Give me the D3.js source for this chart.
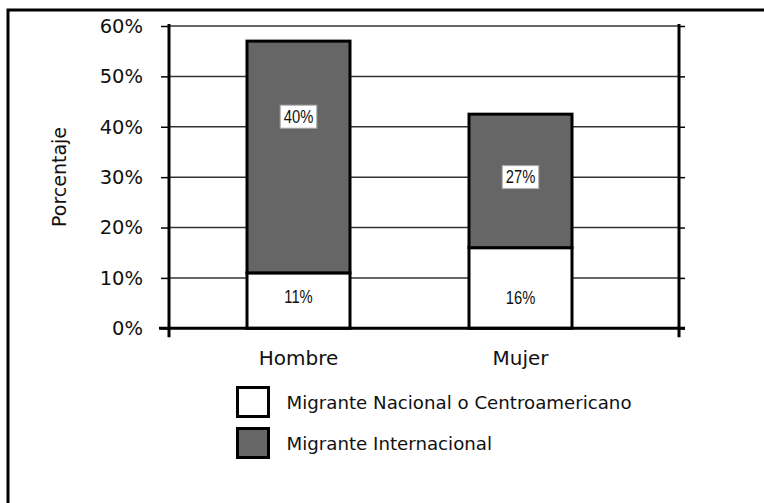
<!DOCTYPE html>
<html>
<head>
<meta charset="utf-8">
<script src="https://cdn.jsdelivr.net/npm/d3@7/dist/d3.min.js"></script>
<style>
  html, body { margin: 0; padding: 0; background: #fff; }
  svg { display: block; }
</style>
</head>
<body>
<script>
// ---- data ----
const categories = ["Hombre", "Mujer"];
const nacional = [11, 16];
const internacional = [46, 26.5];
const nacionalLabels = ["11%", "16%"];
const internacionalLabels = ["40%", "27%"];
const nacionalLabelAt = [6.2, 6.1];
const internacionalLabelAt = [42, 30];
const yTicks = [0, 10, 20, 30, 40, 50, 60];
const yTickLabels = ["0%", "10%", "20%", "30%", "40%", "50%", "60%"];
const yTitle = "Porcentaje";
const seriesNames = ["Migrante Nacional o Centroamericano", "Migrante Internacional"];
const seriesColors = ["#ffffff", "#666666"];

// ---- layout ----
const W = 764, H = 503;
const plot = { left: 169, right: 679, top: 26, bottom: 328.3 };
const mainFont = "'DejaVu Sans', sans-serif";
const narrowFont = "'Liberation Sans Narrow', 'Arial Narrow', 'Liberation Sans', sans-serif";
const narrowFactor = 0.82;

const svg = d3.select("body").append("svg").attr("width", W).attr("height", H);

// outer frame (only top/left visible)
svg.append("rect").attr("x", 8).attr("y", 10).attr("width", 900).attr("height", 700)
  .attr("fill", "none").attr("stroke", "#000").attr("stroke-width", 3);

const y = d3.scaleLinear().domain([0, 60]).range([plot.bottom, plot.top]);
const x = d3.scalePoint().domain(categories).range([298.5, 520.5]);
const barW = 103;

// gridlines
svg.append("g").selectAll("line").data(yTicks.filter(d => d > 0)).join("line")
  .attr("x1", plot.left).attr("x2", plot.right)
  .attr("y1", d => y(d)).attr("y2", d => y(d))
  .attr("stroke", "#333").attr("stroke-width", 1.5);

// stacked data
const rows = categories.map((c, i) => ({ cat: c, nacional: nacional[i], internacional: internacional[i] }));
const stack = d3.stack().keys(["nacional", "internacional"])(rows);

svg.append("g").selectAll("g").data(stack).join("g")
  .attr("fill", (d, i) => seriesColors[i])
  .selectAll("rect").data(d => d).join("rect")
  .attr("x", d => x(d.data.cat) - barW / 2)
  .attr("width", barW)
  .attr("y", d => y(d[1]))
  .attr("height", d => y(d[0]) - y(d[1]))
  .attr("stroke", "#000").attr("stroke-width", 3);

// left axis
const axL = svg.append("g").attr("transform", `translate(${plot.left},0)`)
  .call(d3.axisLeft(y).tickValues(yTicks).tickFormat((d, i) => yTickLabels[i]).tickSize(8).tickPadding(18));
axL.select(".domain").remove();
axL.selectAll(".tick line").attr("stroke", "#000").attr("stroke-width", 1.5);
axL.selectAll(".tick text").attr("font-family", mainFont).attr("font-size", 19.5).attr("fill", "#111");

// right axis ticks
const axR = svg.append("g").attr("transform", `translate(${plot.right},0)`)
  .call(d3.axisRight(y).tickValues(yTicks).tickFormat("").tickSize(6));
axR.select(".domain").remove();
axR.selectAll(".tick line").attr("stroke", "#000").attr("stroke-width", 1.5);

// vertical axis lines
[plot.left, plot.right].forEach(px => {
  svg.append("line").attr("x1", px).attr("x2", px).attr("y1", plot.top - 2).attr("y2", plot.bottom + 9)
    .attr("stroke", "#000").attr("stroke-width", 3);
});
// baseline
svg.append("line").attr("x1", plot.left - 10).attr("x2", plot.right + 6)
  .attr("y1", y(0)).attr("y2", y(0)).attr("stroke", "#000").attr("stroke-width", 3);

// category labels
svg.append("g").selectAll("text").data(categories).join("text")
  .attr("x", d => x(d)).attr("y", 365)
  .attr("text-anchor", "middle").attr("font-family", mainFont).attr("font-size", 20)
  .attr("fill", "#111").text(d => d);

// y title
svg.append("text").attr("transform", `translate(66,177) rotate(-90)`)
  .attr("text-anchor", "middle").attr("font-family", mainFont).attr("font-size", 19)
  .attr("fill", "#111").text(yTitle);

// value labels (narrow)
function narrowText(sel) {
  const w = sel.node().getComputedTextLength();
  sel.attr("textLength", w * narrowFactor).attr("lengthAdjust", "spacingAndGlyphs");
  return w * narrowFactor;
}
const lblG = svg.append("g");
categories.forEach((c, i) => {
  const t1 = lblG.append("text").attr("x", x(c)).attr("y", y(nacionalLabelAt[i]))
    .attr("dy", "0.35em").attr("text-anchor", "middle")
    .attr("font-family", narrowFont).attr("font-size", 18).attr("fill", "#111")
    .text(nacionalLabels[i]);
  narrowText(t1);
  const g = lblG.append("g");
  const t = g.append("text").attr("x", x(c)).attr("y", y(internacionalLabelAt[i]))
    .attr("dy", "0.35em").attr("text-anchor", "middle")
    .attr("font-family", narrowFont).attr("font-size", 18).attr("fill", "#111")
    .text(internacionalLabels[i]);
  const w = narrowText(t);
  g.insert("rect", "text")
    .attr("x", x(c) - w / 2 - 3.5).attr("y", y(internacionalLabelAt[i]) - 11.5)
    .attr("width", w + 7).attr("height", 23)
    .attr("fill", "#fff").attr("stroke", "#aaa").attr("stroke-width", 1);
});

// legend
const legY = [387.5, 428.5];
const leg = svg.append("g").selectAll("g").data(seriesNames).join("g")
  .attr("transform", (d, i) => `translate(237.5,${legY[i]})`);
leg.append("rect").attr("width", 31).attr("height", 29)
  .attr("fill", (d, i) => seriesColors[i]).attr("stroke", "#000").attr("stroke-width", 3);
leg.append("text").attr("x", 49).attr("y", 15).attr("dy", "0.35em")
  .attr("font-family", mainFont).attr("font-size", 18.2).attr("fill", "#111")
  .text(d => d);
</script>
</body>
</html>
